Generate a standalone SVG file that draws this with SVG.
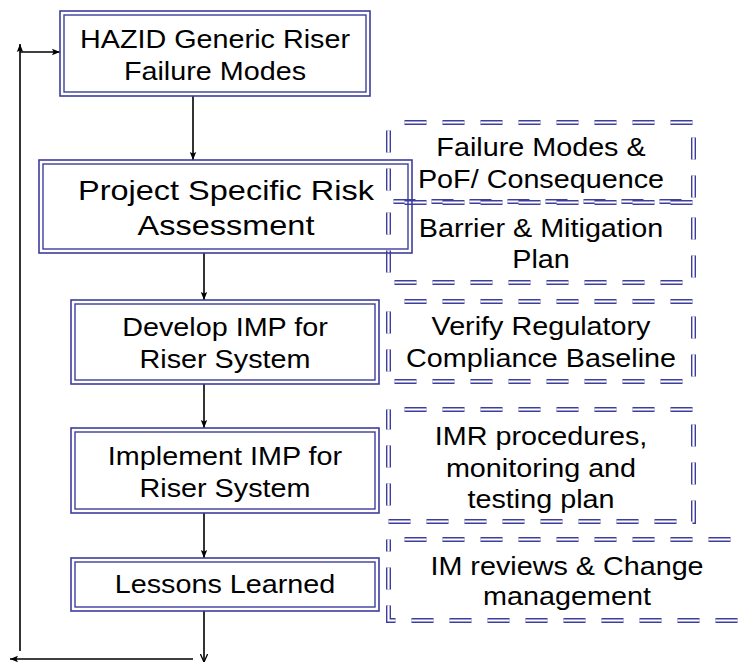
<svg xmlns="http://www.w3.org/2000/svg" width="738" height="663" viewBox="0 0 738 663">
<defs>
<style>
.bo{fill:none;stroke:#3d3d9e;stroke-width:1.6}
.bi{fill:none;stroke:#3d3d9e;stroke-width:1.4}
.dw{fill:none;stroke:#3d3d9e;stroke-width:5;stroke-dasharray:22 16;stroke-dashoffset:22}
.dwi{fill:none;stroke:#fff;stroke-width:2.2;stroke-dasharray:22 16;stroke-dashoffset:22}
.ln{fill:none;stroke:#000;stroke-width:1.6}
.t{font-family:"Liberation Sans",Arial,sans-serif;font-size:25px;fill:#000;text-anchor:middle}
.tl{font-size:28px}
</style>
<marker id="ah" viewBox="0 0 10 10" refX="10" refY="5" markerWidth="8" markerHeight="8" markerUnits="userSpaceOnUse" orient="auto">
<path d="M0,1 L10,5 L0,9 L2,5 z" fill="#000"/>
</marker>
<marker id="av" viewBox="0 0 10 10" refX="10" refY="5" markerWidth="8" markerHeight="8" markerUnits="userSpaceOnUse" orient="auto">
<path d="M0,0.5 L10,5 L0,9.5" fill="none" stroke="#000" stroke-width="1.6"/>
</marker>
<rect id="r1" x="388.5" y="122.5" width="305" height="79"/>
<rect id="r2" x="388.5" y="202.5" width="305" height="80"/>
<rect id="r3" x="388.5" y="301.5" width="305" height="80"/>
<rect id="r4" x="388.5" y="409.5" width="305" height="112"/>
<rect id="r5" x="388.5" y="539.5" width="370" height="81"/>
</defs>
<rect width="738" height="663" fill="#fff"/>

<g id="side-boxes">
<g id="failure-modes">
<use href="#r1" class="dw"/><use href="#r1" class="dwi"/>
<g transform="translate(541,0) scale(1.15,1)"><text class="t" x="0" y="156">Failure Modes &amp;</text><text class="t" x="0" y="188">PoF/ Consequence</text></g>
</g>
<g id="barrier">
<use href="#r2" class="dw"/><use href="#r2" class="dwi"/>
<g transform="translate(541,0) scale(1.15,1)"><text class="t" x="0" y="237">Barrier &amp; Mitigation</text><text class="t" x="0" y="268">Plan</text></g>
</g>
<g id="verify">
<use href="#r3" class="dw"/><use href="#r3" class="dwi"/>
<g transform="translate(541,0) scale(1.15,1)"><text class="t" x="0" y="335">Verify Regulatory</text><text class="t" x="0" y="367">Compliance Baseline</text></g>
</g>
<g id="imr">
<use href="#r4" class="dw"/><use href="#r4" class="dwi"/>
<g transform="translate(541,0) scale(1.15,1)"><text class="t" x="0" y="445">IMR procedures,</text><text class="t" x="0" y="477">monitoring and</text><text class="t" x="0" y="508">testing plan</text></g>
</g>
<g id="im-reviews">
<use href="#r5" class="dw"/><use href="#r5" class="dwi"/>
<g transform="translate(567,0) scale(1.15,1)"><text class="t" x="0" y="575">IM reviews &amp; Change</text><text class="t" x="0" y="605">management</text></g>
</g>
</g>

<g id="connectors">
<line class="ln" x1="193" y1="96" x2="193" y2="160" marker-end="url(#ah)"/>
<line class="ln" x1="204" y1="253" x2="204" y2="300" marker-end="url(#ah)"/>
<line class="ln" x1="204" y1="384" x2="204" y2="428" marker-end="url(#ah)"/>
<line class="ln" x1="204" y1="513" x2="204" y2="558" marker-end="url(#ah)"/>
<line class="ln" x1="204" y1="611" x2="204" y2="662" marker-end="url(#av)"/>
<line class="ln" x1="193" y1="659" x2="10" y2="659" marker-end="url(#ah)"/>
<line class="ln" x1="20" y1="651" x2="20" y2="44" marker-end="url(#ah)"/>
<line class="ln" x1="20" y1="52" x2="60" y2="52" marker-end="url(#ah)"/>
</g>

<g id="hazid">
<rect x="60" y="11" width="310" height="85" fill="#fff" class="bo"/>
<rect class="bi" x="64" y="15" width="302" height="77"/>
<g transform="translate(215,0) scale(1.15,1)"><text class="t" x="0" y="48">HAZID Generic Riser</text><text class="t" x="0" y="80">Failure Modes</text></g>
</g>
<g id="project">
<rect x="39" y="160" width="373" height="93" fill="#fff" class="bo"/>
<rect class="bi" x="43" y="164" width="365" height="85"/>
<g transform="translate(226,0) scale(1.16,1)"><text class="t tl" x="0" y="200">Project Specific Risk</text><text class="t tl" x="0" y="235">Assessment</text></g>
</g>
<g id="develop">
<rect x="71" y="300" width="308" height="84" fill="#fff" class="bo"/>
<rect class="bi" x="75" y="304" width="300" height="76"/>
<g transform="translate(225,0) scale(1.15,1)"><text class="t" x="0" y="336">Develop IMP for</text><text class="t" x="0" y="368">Riser System</text></g>
</g>
<g id="implement">
<rect x="71" y="428" width="308" height="85" fill="#fff" class="bo"/>
<rect class="bi" x="75" y="432" width="300" height="77"/>
<g transform="translate(225,0) scale(1.15,1)"><text class="t" x="0" y="465">Implement IMP for</text><text class="t" x="0" y="497">Riser System</text></g>
</g>
<g id="lessons">
<rect x="71" y="558" width="308" height="53" fill="#fff" class="bo"/>
<rect class="bi" x="75" y="562" width="300" height="45"/>
<g transform="translate(225,0) scale(1.15,1)"><text class="t" x="0" y="593">Lessons Learned</text></g>
</g>
</svg>
